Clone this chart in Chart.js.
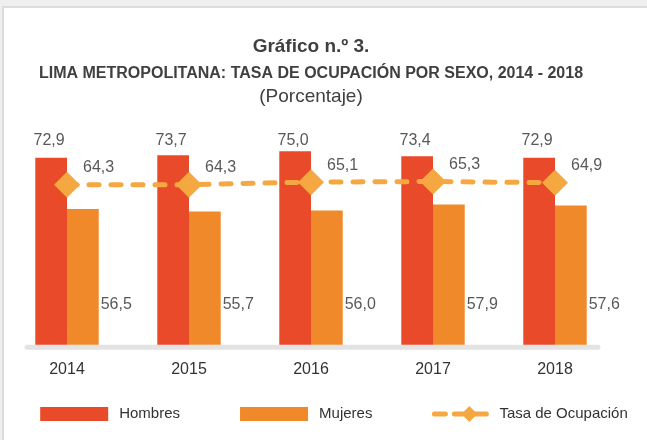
<!DOCTYPE html>
<html>
<head>
<meta charset="utf-8">
<script src="https://cdn.jsdelivr.net/npm/chart.js@4.4.0/dist/chart.umd.min.js"></script>
<style>
  html, body { margin: 0; padding: 0; background: #efefef; }
  #marco {
    position: absolute; left: 2px; top: 6px; right: 0; bottom: 0;
    border-top: 2px solid #dcdcdc; border-left: 2px solid #dcdcdc;
    background: #fff;
  }
  #wrap { position: absolute; left: 0; top: 0; width: 647px; height: 440px; }
</style>
</head>
<body>
<div id="marco"></div>
<div id="wrap"><canvas id="grafico"></canvas></div>
<script>
// Datos del gráfico
const anios = ['2014', '2015', '2016', '2017', '2018'];
const hombres = [72.9, 73.7, 75.0, 73.4, 72.9];
const mujeres = [56.5, 55.7, 56.0, 57.9, 57.6];
const tasa = [64.3, 64.3, 65.1, 65.3, 64.9];

const titulos = [
  { text: 'Gráfico n.º 3.', font: 'bold 19px "Liberation Sans", Arial, sans-serif', color: '#404040', y: 47 },
  { text: 'LIMA METROPOLITANA: TASA DE OCUPACIÓN POR SEXO, 2014 - 2018', font: 'bold 16px "Liberation Sans", Arial, sans-serif', color: '#404040', y: 74 },
  { text: '(Porcentaje)', font: '19px "Liberation Sans", Arial, sans-serif', color: '#404040', y: 97 }
];

const rojo = '#E94B2A';
const naranja = '#F0892A';
const amarillo = '#F5A841';

const fmt = v => v.toFixed(1).replace('.', ',');

// Títulos arriba del gráfico
const pluginTitulos = {
  id: 'titulos',
  afterDraw(chart) {
    const ctx = chart.ctx;
    const cx = 311;
    ctx.save();
    ctx.textAlign = 'center';
    ctx.textBaseline = 'middle';
    titulos.forEach(t => {
      ctx.font = t.font;
      ctx.fillStyle = t.color;
      ctx.fillText(t.text, cx, t.y);
    });
    ctx.restore();
  }
};

// Línea base gris
const pluginBase = {
  id: 'base',
  beforeDatasetsDraw(chart) {
    const ctx = chart.ctx;
    const x = chart.scales.x;
    const y = chart.chartArea.bottom + 2.5;
    ctx.save();
    ctx.strokeStyle = '#e3e3e3';
    ctx.lineWidth = 5;
    ctx.lineCap = 'round';
    ctx.beginPath();
    ctx.moveTo(x.getPixelForValue(0) - 40, y);
    ctx.lineTo(x.getPixelForValue(anios.length - 1) + 43, y);
    ctx.stroke();
    ctx.restore();
  }
};

// Etiquetas de valores
const pluginEtiquetas = {
  id: 'etiquetas',
  afterDatasetsDraw(chart) {
    const ctx = chart.ctx;
    ctx.save();
    ctx.font = '16px "Liberation Sans", Arial, sans-serif';
    ctx.fillStyle = '#595959';
    ctx.textBaseline = 'middle';
    chart.data.datasets.forEach((ds, i) => {
      const meta = chart.getDatasetMeta(i);
      meta.data.forEach((el, j) => {
        const v = fmt(ds.data[j]);
        if (ds.label === 'Hombres') {
          ctx.textAlign = 'center';
          ctx.fillText(v, el.x - 2, 141);
        } else if (ds.label === 'Mujeres') {
          ctx.textAlign = 'left';
          ctx.fillText(v, el.x + el.width / 2 + 2, el.base - 81);
        } else {
          ctx.textAlign = 'left';
          ctx.fillText(v, el.x + 16, el.y - 17);
        }
      });
    });
    ctx.restore();
  }
};

// Leyenda
const pluginLeyenda = {
  id: 'leyenda',
  afterDraw(chart) {
    const ctx = chart.ctx;
    const y = 414;
    const gap = 60;
    ctx.save();
    ctx.font = '15px "Liberation Sans", Arial, sans-serif';
    ctx.textBaseline = 'middle';
    const items = chart.data.datasets.map(ds => ({
      ds, w: (ds.type === 'line' ? 56 : 68) + 11 + ctx.measureText(ds.label).width
    }));
    const total = items.reduce((s, it) => s + it.w, 0) + gap * (items.length - 1);
    let x = 334 - total / 2;
    items.forEach(it => {
      const ds = it.ds;
      let bw;
      if (ds.type === 'line') {
        bw = 56;
        ctx.strokeStyle = ds.borderColor;
        ctx.lineWidth = 5;
        ctx.lineCap = 'round';
        ctx.beginPath();
        ctx.moveTo(x + 2, y); ctx.lineTo(x + 13, y);
        ctx.moveTo(x + 22, y); ctx.lineTo(x + 54, y);
        ctx.stroke();
        ctx.fillStyle = ds.pointBackgroundColor;
        ctx.beginPath();
        const cx = x + 37;
        ctx.moveTo(cx - 8, y); ctx.lineTo(cx, y - 8); ctx.lineTo(cx + 8, y); ctx.lineTo(cx, y + 8);
        ctx.closePath();
        ctx.fill();
      } else {
        bw = 68;
        ctx.fillStyle = ds.backgroundColor;
        ctx.fillRect(x, y - 7, bw, 14);
      }
      ctx.fillStyle = '#333';
      ctx.textAlign = 'left';
      ctx.fillText(ds.label, x + bw + 11, y);
      x += it.w + gap;
    });
    ctx.restore();
  }
};

const grafico = new Chart(document.getElementById('grafico'), {
  data: {
    labels: anios,
    datasets: [
      {
        type: 'bar',
        label: 'Hombres',
        data: hombres,
        backgroundColor: rojo,
        categoryPercentage: 0.52,
        barPercentage: 1,
        order: 1
      },
      {
        type: 'bar',
        label: 'Mujeres',
        data: mujeres,
        backgroundColor: naranja,
        categoryPercentage: 0.52,
        barPercentage: 1,
        order: 1
      },
      {
        type: 'line',
        label: 'Tasa de Ocupación',
        data: tasa,
        borderColor: amarillo,
        borderWidth: 5,
        borderDash: [10, 12],
        borderCapStyle: 'round',
        pointStyle: 'rectRot',
        pointRadius: 13,
        pointHoverRadius: 13,
        pointBorderWidth: 0,
        pointBackgroundColor: amarillo,
        fill: false,
        tension: 0,
        order: 0
      }
    ]
  },
  options: {
    responsive: true,
    maintainAspectRatio: false,
    animation: false,
    layout: { autoPadding: false, padding: { left: 6, right: 31, top: 120, bottom: 46 } },
    plugins: {
      legend: { display: false },
      tooltip: { enabled: false }
    },
    scales: {
      x: {
        grid: { display: false, drawTicks: false },
        border: { display: false },
        ticks: {
          padding: 15,
          color: '#333',
          font: { family: '"Liberation Sans", Arial, sans-serif', size: 16 }
        }
      },
      y: {
        display: false,
        min: 13,
        max: 85
      }
    }
  },
  plugins: [pluginBase, pluginEtiquetas, pluginTitulos, pluginLeyenda]
});
</script>
</body>
</html>
